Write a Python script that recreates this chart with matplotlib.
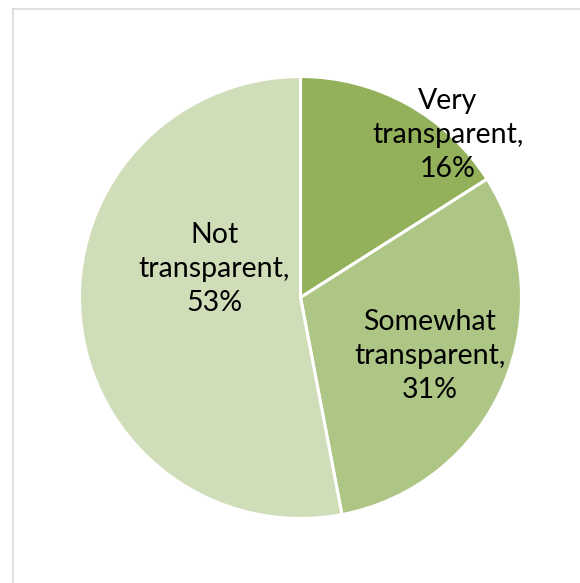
import matplotlib
matplotlib.use('Agg')
import matplotlib.pyplot as plt
from matplotlib.lines import Line2D

# Share of responses per transparency rating
categories = ['Very\ntransparent', 'Somewhat\ntransparent', 'Not\ntransparent']
shares = [16, 31, 53]
colors = ['#93b15a', '#adc585', '#d0ddb9']

# label anchor points, in pie radii from the centre
label_xy = [(0.667, 0.735), (0.586, -0.265), (-0.391, 0.129)]

W, H = 580, 583
cx, cy, r = 300.5, 297.5, 221.0

fig = plt.figure(figsize=(W / 100, H / 100), dpi=100)
ax = fig.add_axes([0, 0, 1, 1])

ax.pie(shares, colors=colors, startangle=90, counterclock=False,
       radius=1.0, center=(0, 0),
       wedgeprops=dict(edgecolor='white', linewidth=2.2))

for cat, val, (tx, ty) in zip(categories, shares, label_xy):
    ax.text(tx, ty, f'{cat},\n{val}%', ha='center', va='center',
            fontsize=20.5, family='Lato', color='black', linespacing=1.4)

ax.set_xlim(-cx / r, (W - cx) / r)
ax.set_ylim((cy - H) / r, cy / r)
ax.set_aspect('equal')
ax.axis('off')

# chart-area frame (only top and left edges fall inside the image)
top = 1 - 8.5 / H
left = 12.5 / W
fig.add_artist(Line2D([left, 1], [top, top], transform=fig.transFigure,
                      color='#d9d9d9', linewidth=1.2))
fig.add_artist(Line2D([left, left], [0, top], transform=fig.transFigure,
                      color='#d9d9d9', linewidth=1.2))

fig.savefig('out.png', dpi=100, facecolor='white')
